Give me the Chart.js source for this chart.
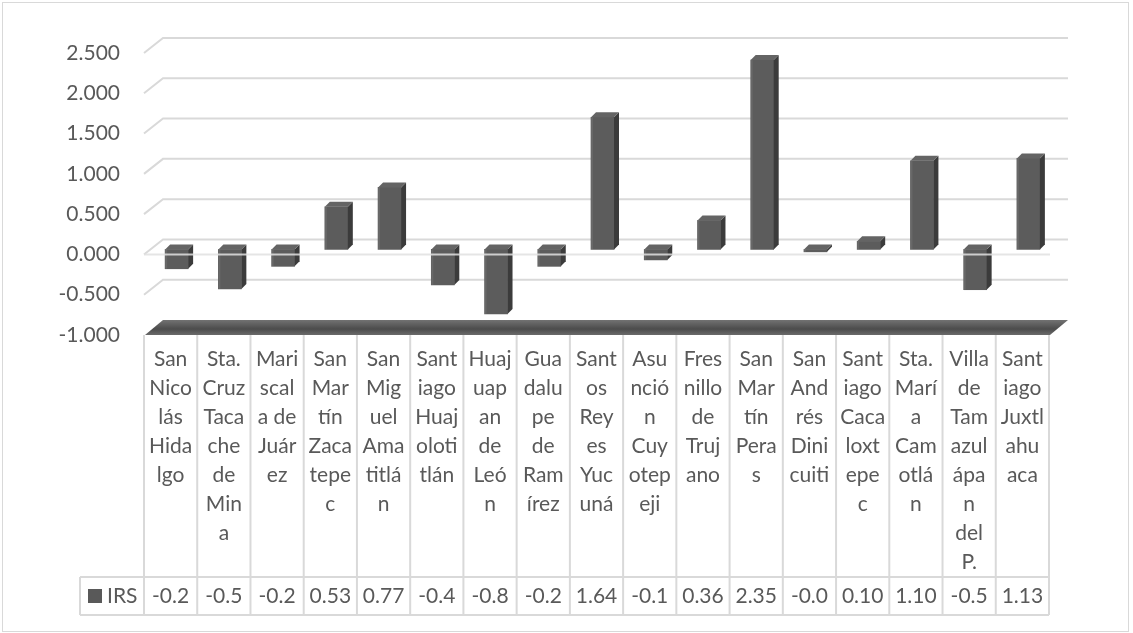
<!DOCTYPE html>
<html>
<head>
<meta charset="utf-8">
<script src="https://cdn.jsdelivr.net/npm/chart.js@4.4.1/dist/chart.umd.min.js"></script>
<style>
  html, body { margin: 0; padding: 0; background: #fff; }
  #wrap { width: 1133px; height: 633px; position: relative; }
</style>
</head>
<body>
<div id="wrap"><canvas id="irs-chart"></canvas></div>
<script>
// categorías (cortadas en líneas como en la tabla de Excel)
const categories = [
  ['San', 'Nico', 'lás', 'Hida', 'lgo'],
  ['Sta.', 'Cruz', 'Taca', 'che', 'de', 'Min', 'a'],
  ['Mari', 'scal', 'a de', 'Juár', 'ez'],
  ['San', 'Mar', 'tín', 'Zaca', 'tepe', 'c'],
  ['San', 'Mig', 'uel', 'Ama', 'titlá', 'n'],
  ['Sant', 'iago', 'Huaj', 'oloti', 'tlán'],
  ['Huaj', 'uap', 'an', 'de', 'Leó', 'n'],
  ['Gua', 'dalu', 'pe', 'de', 'Ram', 'írez'],
  ['Sant', 'os', 'Rey', 'es', 'Yuc', 'uná'],
  ['Asu', 'nció', 'n', 'Cuy', 'otep', 'eji'],
  ['Fres', 'nillo', 'de', 'Truj', 'ano'],
  ['San', 'Mar', 'tín', 'Pera', 's'],
  ['San', 'And', 'rés', 'Dini', 'cuiti'],
  ['Sant', 'iago', 'Caca', 'loxt', 'epe', 'c'],
  ['Sta.', 'Marí', 'a', 'Cam', 'otlá', 'n'],
  ['Villa', 'de', 'Tam', 'azul', 'ápa', 'n', 'del', 'P.'],
  ['Sant', 'iago', 'Juxtl', 'ahu', 'aca']
];

// valores IRS
const irsValues = [-0.24, -0.49, -0.21, 0.53, 0.77, -0.44, -0.80, -0.21, 1.64, -0.13, 0.36, 2.35, -0.03, 0.10, 1.10, -0.50, 1.13];

// etiquetas del eje Y
const yTicks = [-1, -0.5, 0, 0.5, 1, 1.5, 2, 2.5];

const seriesName = 'IRS';

const FONT = "Lato, 'Open Sans', sans-serif";
const TEXT = '#595959';
const GRID = '#d9d9d9';

// desplazamiento 3D
const DEPTH_X = 19, DEPTH_Y = 15;   // pared del fondo
const BAR_DX = 6, BAR_DY = 5;       // posición de las barras
const SIDE = 5;                     // profundidad de cada barra

function fmtValue(v) {
  return v < 0 ? v.toFixed(1) : v.toFixed(2);
}

const chart3d = {
  id: 'chart3d',
  beforeDatasetsDraw(chart) {
    const { ctx, chartArea, scales } = chart;
    const y = scales.y;
    const left = chartArea.left, right = chartArea.right;

    // líneas de división en la pared del fondo
    ctx.save();
    ctx.strokeStyle = GRID;
    ctx.lineWidth = 2;
    yTicks.forEach(v => {
      if (v === yTicks[0]) return;
      const py = y.getPixelForValue(v);
      ctx.beginPath();
      ctx.moveTo(left, py);
      ctx.lineTo(left + DEPTH_X, py - DEPTH_Y);
      ctx.lineTo(right + DEPTH_X, py - DEPTH_Y);
      ctx.stroke();
    });

    // piso
    const fy = y.getPixelForValue(yTicks[0]);
    const g = ctx.createLinearGradient(0, fy - DEPTH_Y, 0, fy);
    g.addColorStop(0, '#727272');
    g.addColorStop(0.6, '#4c4c4c');
    g.addColorStop(1, '#6a6a6a');
    ctx.fillStyle = g;
    ctx.beginPath();
    ctx.moveTo(left + 1, fy);
    ctx.lineTo(left + DEPTH_X, fy - DEPTH_Y);
    ctx.lineTo(right + DEPTH_X, fy - DEPTH_Y);
    ctx.lineTo(right + 1, fy);
    ctx.closePath();
    ctx.fill();
    ctx.restore();

    ctx.save();
    ctx.translate(BAR_DX, -BAR_DY);
  },
  afterDatasetsDraw(chart) {
    const { ctx, scales } = chart;
    const meta = chart.getDatasetMeta(0);
    meta.data.forEach(bar => {
      const p = bar.getProps(['x', 'y', 'base', 'width'], true);
      const x0 = p.x - p.width / 2, x1 = p.x + p.width / 2;
      const top = Math.min(p.y, p.base), bottom = Math.max(p.y, p.base);
      // cara lateral
      ctx.fillStyle = '#3b3b3b';
      ctx.beginPath();
      ctx.moveTo(x1, top);
      ctx.lineTo(x1 + SIDE, top - SIDE);
      ctx.lineTo(x1 + SIDE, bottom - SIDE);
      ctx.lineTo(x1, bottom);
      ctx.closePath();
      ctx.fill();
      // cara superior
      ctx.fillStyle = '#646464';
      ctx.beginPath();
      ctx.moveTo(x0, top);
      ctx.lineTo(x0 + SIDE, top - SIDE);
      ctx.lineTo(x1 + SIDE, top - SIDE);
      ctx.lineTo(x1, top);
      ctx.closePath();
      ctx.fill();
      // brillo del borde izquierdo
      ctx.fillStyle = 'rgba(255,255,255,0.08)';
      ctx.fillRect(x0, top, 2, bottom - top);
    });
    ctx.restore();

    // línea frontal del cero
    const { chartArea } = chart;
    const py = scales.y.getPixelForValue(0);
    ctx.save();
    ctx.strokeStyle = 'rgba(225,225,225,0.85)';
    ctx.lineWidth = 2;
    ctx.beginPath();
    ctx.moveTo(chartArea.left, py);
    ctx.lineTo(chartArea.right + 1, py);
    ctx.stroke();
    ctx.restore();
  },
  afterDraw(chart) {
    const { ctx, chartArea, scales } = chart;
    const x = scales.x;
    const n = categories.length;
    const colW = (chartArea.right - chartArea.left) / n;
    const tTop = chartArea.bottom, rowTop = 577, rowBot = 615, legLeft = 80;

    ctx.save();
    ctx.strokeStyle = GRID;
    ctx.lineWidth = 2;
    ctx.beginPath();
    for (let i = 0; i <= n; i++) {
      const px = chartArea.left + i * colW;
      ctx.moveTo(px, tTop);
      ctx.lineTo(px, rowBot);
    }
    ctx.moveTo(legLeft, rowTop);
    ctx.lineTo(chartArea.right, rowTop);
    ctx.moveTo(legLeft, rowBot);
    ctx.lineTo(chartArea.right, rowBot);
    ctx.moveTo(legLeft, rowTop);
    ctx.lineTo(legLeft, rowBot);
    ctx.stroke();

    // fila de valores
    ctx.fillStyle = TEXT;
    ctx.font = '21px ' + FONT;
    ctx.textAlign = 'center';
    ctx.textBaseline = 'middle';
    const midY = (rowTop + rowBot) / 2;
    irsValues.forEach((v, i) => {
      ctx.fillText(fmtValue(v), x.getPixelForValue(i), midY);
    });

    // leyenda
    ctx.fillStyle = '#595959';
    ctx.fillRect(88, midY - 7, 14, 14);
    ctx.fillStyle = TEXT;
    ctx.textAlign = 'left';
    ctx.fillText(seriesName, 107, midY);

    // borde del gráfico
    ctx.strokeStyle = GRID;
    ctx.lineWidth = 1;
    ctx.strokeRect(2.5, 2.5, 1126, 629);
    ctx.restore();
  }
};

const ctx = document.getElementById('irs-chart');
new Chart(ctx, {
  type: 'bar',
  data: {
    labels: categories,
    datasets: [{
      label: seriesName,
      data: irsValues,
      backgroundColor: '#5c5c5c',
      borderWidth: 0,
      barThickness: 23
    }]
  },
  options: {
    responsive: true,
    maintainAspectRatio: false,
    animation: false,
    layout: { padding: { top: 53, right: 84, bottom: 0, left: 0 } },
    plugins: {
      legend: { display: false },
      tooltip: { enabled: false }
    },
    scales: {
      x: {
        grid: { display: false },
        border: { display: false },
        afterFit: scale => { scale.height = 298; },
        ticks: {
          color: TEXT,
          autoSkip: false,
          maxRotation: 0,
          padding: 2,
          font: { family: FONT, size: 21, lineHeight: 1.38 }
        }
      },
      y: {
        min: -1,
        max: 2.5,
        grid: { display: false },
        border: { display: false },
        afterFit: scale => { scale.width = 144; },
        afterBuildTicks: scale => { scale.ticks = yTicks.map(v => ({ value: v })); },
        ticks: {
          color: TEXT,
          padding: 16,
          font: { family: FONT, size: 21 },
          callback: v => v.toFixed(3)
        }
      }
    }
  },
  plugins: [chart3d]
});
</script>
</body>
</html>
